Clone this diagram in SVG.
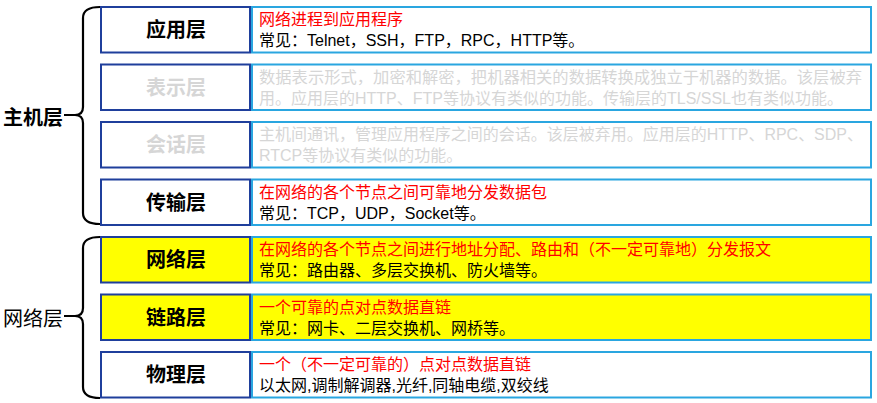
<svg xmlns="http://www.w3.org/2000/svg" width="877" height="403" viewBox="0 0 877 403">
<style>
text{font-family:"Noto Sans CJK SC","Microsoft YaHei",sans-serif}
.lb{fill:#fff;stroke:#1f3f9c;stroke-width:2}
.rb{fill:#fff;stroke:#2aa6e0;stroke-width:2}
.y{fill:#ffff00}
.name{font-size:20px;font-weight:bold;fill:#000;text-anchor:middle}
.gname{fill:#d6d6d6}
.red,.blk,.gray{font-family:"Liberation Sans","Noto Sans CJK SC",sans-serif;font-size:16px}
.red{fill:#ff0000}
.blk{fill:#000}
.gray{fill:#d6d6d6}
.grp{font-size:20px;fill:#000}
.brace{fill:none;stroke:#000;stroke-width:2.2}
</style>
<g id="connectors">
<path class="brace" d="M100,7 Q83,7 83,18 L83,107 Q83,115 75,115 L64,115 M75,115 Q83,115 83,123 L83,213 Q83,224 100,224"/>
<path class="brace" d="M100,237 Q83,237 83,248 L83,308 Q83,316 75,316 L64,316 M75,316 Q83,316 83,324 L83,387 Q83,398 100,398"/>
</g>
<g id="host-group"><text class="grp" x="3" y="125" font-weight="bold">主机层</text></g>
<g id="net-group"><text class="grp" x="3" y="326">网络层</text></g>

<g id="app">
<rect class="rb" x="252" y="7" width="619" height="45.5"/>
<rect class="lb" x="101" y="7" width="149" height="45.5"/>
<text class="name" x="176" y="37">应用层</text>
<text class="red" x="259" y="25">网络进程到应用程序</text>
<text class="blk" x="259" y="46">常见：Telnet，SSH，FTP，RPC，HTTP等。</text>
</g>
<g id="presentation">
<rect class="rb" x="252" y="64.5" width="619" height="45.5"/>
<rect class="lb" x="101" y="64.5" width="149" height="45.5"/>
<text class="name gname" x="176" y="94.5">表示层</text>
<text class="gray" x="259" y="82.5" textLength="603" lengthAdjust="spacingAndGlyphs">数据表示形式，加密和解密，把机器相关的数据转换成独立于机器的数据。该层被弃</text>
<text class="gray" x="259" y="103.5" textLength="584" lengthAdjust="spacingAndGlyphs">用。应用层的HTTP、FTP等协议有类似的功能。传输层的TLS/SSL也有类似功能。</text>
</g>
<g id="session">
<rect class="rb" x="252" y="122" width="619" height="45.5"/>
<rect class="lb" x="101" y="122" width="149" height="45.5"/>
<text class="name gname" x="176" y="152">会话层</text>
<text class="gray" x="259" y="140" textLength="604" lengthAdjust="spacingAndGlyphs">主机间通讯，管理应用程序之间的会话。该层被弃用。应用层的HTTP、RPC、SDP、</text>
<text class="gray" x="259" y="161">RTCP等协议有类似的功能。</text>
</g>
<g id="transport">
<rect class="rb" x="252" y="179.5" width="619" height="45.5"/>
<rect class="lb" x="101" y="179.5" width="149" height="45.5"/>
<text class="name" x="176" y="209.5">传输层</text>
<text class="red" x="259" y="197.5">在网络的各个节点之间可靠地分发数据包</text>
<text class="blk" x="259" y="218.5">常见：TCP，UDP，Socket等。</text>
</g>
<g id="network">
<rect class="rb y" x="252" y="237" width="619" height="45.5"/>
<rect class="lb y" x="101" y="237" width="149" height="45.5"/>
<text class="name" x="176" y="267">网络层</text>
<text class="red" x="259" y="255">在网络的各个节点之间进行地址分配、路由和（不一定可靠地）分发报文</text>
<text class="blk" x="259" y="276">常见：路由器、多层交换机、防火墙等。</text>
</g>
<g id="link">
<rect class="rb y" x="252" y="294.5" width="619" height="45.5"/>
<rect class="lb y" x="101" y="294.5" width="149" height="45.5"/>
<text class="name" x="176" y="324.5">链路层</text>
<text class="red" x="259" y="312.5">一个可靠的点对点数据直链</text>
<text class="blk" x="259" y="333.5">常见：网卡、二层交换机、网桥等。</text>
</g>
<g id="physical">
<rect class="rb" x="252" y="352" width="619" height="45.5"/>
<rect class="lb" x="101" y="352" width="149" height="45.5"/>
<text class="name" x="176" y="382">物理层</text>
<text class="red" x="259" y="370">一个（不一定可靠的）点对点数据直链</text>
<text class="blk" x="259" y="391">以太网,调制解调器,光纤,同轴电缆,双绞线</text>
</g>
</svg>
